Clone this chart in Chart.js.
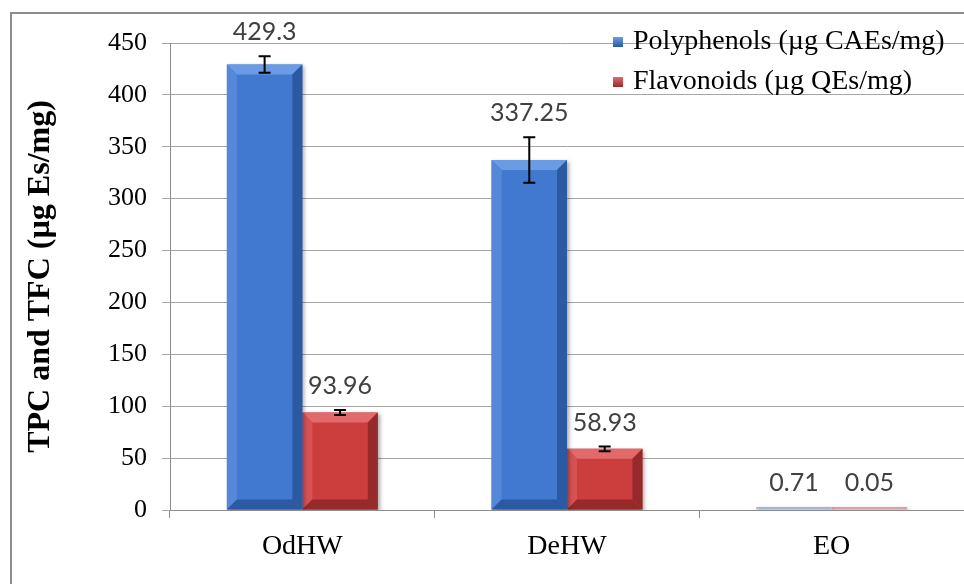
<!DOCTYPE html>
<html>
<head>
<meta charset="utf-8">
<script src="https://cdn.jsdelivr.net/npm/chart.js@4.4.0/dist/chart.umd.min.js"></script>
<style>
  html, body { margin: 0; padding: 0; background: #ffffff; }
  #wrap { width: 964px; height: 584px; position: relative; }
</style>
</head>
<body>
<div id="wrap"><canvas id="c" width="964" height="584"></canvas></div>
<script>
const categories = ['OdHW', 'DeHW', 'EO'];
const polyphenols = [429.3, 337.25, 0.71];
const flavonoids = [93.96, 58.93, 0.05];
const polyphenolsErr = [8, 22, 0];
const flavonoidsErr = [2.3, 2.3, 0];
const seriesNames = ['Polyphenols (\u00b5g CAEs/mg)', 'Flavonoids (\u00b5g QEs/mg)'];
const yAxisTitle = 'TPC and TFC (\u00b5g Es/mg)';
const yMin = 0, yMax = 450, yStep = 50;

const serif = '"Liberation Serif", "Times New Roman", serif';
const palette = [
  { face: '#4279d0', light: '#6a9be3', side: '#5588d8', dark: '#2b5aa3', faint: '#9fb7db' },
  { face: '#cc3e3e', light: '#e26a6a', side: '#d65252', dark: '#962a2a', faint: '#d9a3a3' }
];

const frame = {
  id: 'frame',
  beforeDraw(chart) {
    const ctx = chart.ctx;
    ctx.save();
    ctx.fillStyle = '#ffffff';
    ctx.fillRect(0, 0, chart.width, chart.height);
    ctx.strokeStyle = '#8c8c8c';
    ctx.lineWidth = 2;
    ctx.strokeRect(11, 13, chart.width + 20, chart.height + 20);
    ctx.restore();
  }
};

const bevel = {
  id: 'bevel',
  beforeDatasetDraw(chart) {
    const ctx = chart.ctx;
    ctx.save();
    ctx.shadowColor = 'rgba(0,0,0,0.35)';
    ctx.shadowBlur = 4;
    ctx.shadowOffsetX = 2;
    ctx.shadowOffsetY = 2;
  },
  afterDatasetDraw(chart, args) {
    const ctx = chart.ctx;
    ctx.restore();
    const pal = palette[args.index];
    args.meta.data.forEach((bar) => {
      const p = bar.getProps(['x', 'y', 'base', 'width'], true);
      const h = p.base - p.y;
      if (h < 12) return;
      const l = p.x - p.width / 2, r = p.x + p.width / 2, t = p.y, b = p.base;
      const v = Math.min(10, h / 2);
      const poly = (pts, col) => {
        ctx.beginPath();
        ctx.moveTo(pts[0][0], pts[0][1]);
        for (let i = 1; i < pts.length; i++) ctx.lineTo(pts[i][0], pts[i][1]);
        ctx.closePath();
        ctx.fillStyle = col;
        ctx.fill();
      };
      ctx.save();
      poly([[l, t], [r, t], [r - v, t + v], [l + v, t + v]], pal.light);
      poly([[l, t], [l + v, t + v], [l + v, b - v], [l, b]], pal.side);
      poly([[r, t], [r, b], [r - v, b - v], [r - v, t + v]], pal.dark);
      poly([[l, b], [r, b], [r - v, b - v], [l + v, b - v]], pal.dark);
      ctx.restore();
    });
  }
};

const errorBars = {
  id: 'errorBars',
  afterDatasetsDraw(chart) {
    const ctx = chart.ctx;
    const ys = chart.scales.y;
    ctx.save();
    ctx.strokeStyle = '#000000';
    ctx.lineWidth = 2;
    chart.data.datasets.forEach((ds, di) => {
      const meta = chart.getDatasetMeta(di);
      meta.data.forEach((bar, i) => {
        const e = ds.errors[i];
        if (!e) return;
        const v = ds.data[i];
        const yt = ys.getPixelForValue(v + e);
        const yb = ys.getPixelForValue(v - e);
        ctx.beginPath();
        ctx.moveTo(bar.x, yt); ctx.lineTo(bar.x, yb);
        ctx.moveTo(bar.x - 6, yt); ctx.lineTo(bar.x + 6, yt);
        ctx.moveTo(bar.x - 6, yb); ctx.lineTo(bar.x + 6, yb);
        ctx.stroke();
      });
    });
    ctx.restore();
  }
};

const valueLabels = {
  id: 'valueLabels',
  afterDatasetsDraw(chart) {
    const ctx = chart.ctx;
    const ys = chart.scales.y;
    ctx.save();
    ctx.font = '25px Lato, "Open Sans", sans-serif';
    ctx.fillStyle = '#404040';
    ctx.textAlign = 'center';
    ctx.textBaseline = 'middle';
    chart.data.datasets.forEach((ds, di) => {
      const meta = chart.getDatasetMeta(di);
      meta.data.forEach((bar, i) => {
        const v = ds.data[i];
        const top = Math.min(bar.y, ys.getPixelForValue(v + (ds.errors[i] || 0)));
        ctx.fillText(String(v), bar.x, top - 24);
      });
    });
    ctx.restore();
  }
};

const legendBox = {
  id: 'legendBox',
  afterDraw(chart) {
    const ctx = chart.ctx;
    ctx.save();
    ctx.font = '28px ' + serif;
    ctx.textBaseline = 'middle';
    ctx.textAlign = 'left';
    const rows = [42, 82];
    chart.data.datasets.forEach((ds, di) => {
      const pal = palette[di];
      const y = rows[di];
      const g = ctx.createLinearGradient(0, y - 5, 0, y + 5);
      g.addColorStop(0, pal.light);
      g.addColorStop(1, pal.dark);
      ctx.fillStyle = g;
      ctx.fillRect(613, y - 5, 10, 10);
      ctx.fillStyle = '#000000';
      ctx.fillText(ds.label, 633, y);
    });
    ctx.restore();
  }
};

function barColor(di) {
  return (ctx) => {
    const v = ctx.raw;
    return (v !== undefined && v < 1) ? palette[di].faint : palette[di].face;
  };
}

new Chart(document.getElementById('c'), {
  type: 'bar',
  data: {
    labels: categories,
    datasets: [
      { label: seriesNames[0], data: polyphenols, errors: polyphenolsErr,
        backgroundColor: barColor(0), borderWidth: 0, minBarLength: 3 },
      { label: seriesNames[1], data: flavonoids, errors: flavonoidsErr,
        backgroundColor: barColor(1), borderWidth: 0, minBarLength: 3 }
    ]
  },
  options: {
    responsive: false,
    animation: false,
    devicePixelRatio: 1,
    layout: { padding: { left: 18, top: 43, right: 0, bottom: 0 } },
    datasets: { bar: { categoryPercentage: 0.57, barPercentage: 1.0 } },
    plugins: {
      legend: { display: false },
      tooltip: { enabled: false }
    },
    scales: {
      x: {
        offset: true,
        grid: { display: true, drawOnChartArea: false, drawTicks: true, tickLength: 8, offset: true, color: '#8c8c8c' },
        border: { display: true, color: '#8c8c8c', width: 1 },
        ticks: { color: '#000000', padding: 12, font: { family: serif, size: 28 } },
        afterFit(scale) { scale.height = 74; }
      },
      y: {
        min: yMin, max: yMax,
        ticks: { stepSize: yStep, color: '#000000', padding: 15,
                 font: { family: serif, size: 26 } },
        grid: { color: '#a6a6a6', tickLength: 8, drawTicks: true },
        border: { display: true, color: '#8c8c8c', width: 1 },
        title: { display: true, text: yAxisTitle, color: '#000000', padding: { top: 4, bottom: 0 },
                 font: { family: serif, size: 32, weight: 'bold' } },
        afterFit(scale) { scale.width = 152; }
      }
    }
  },
  plugins: [frame, bevel, errorBars, valueLabels, legendBox]
});
</script>
</body>
</html>
